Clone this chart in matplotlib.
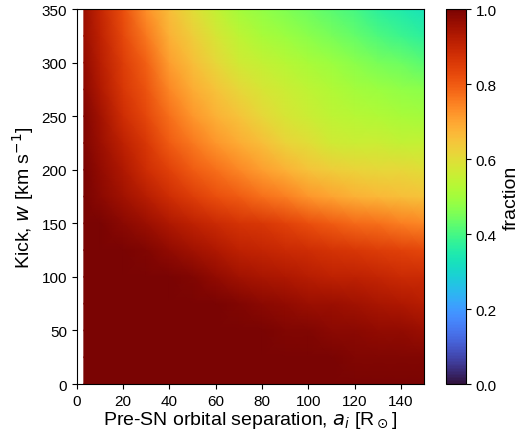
import numpy as np
import matplotlib
matplotlib.use('Agg')
import matplotlib.pyplot as plt

plt.rcParams['font.family'] = ['Liberation Sans', 'DejaVu Sans']

# grid points (separation a_i in R_sun, kick w in km/s)
a_vals = [3, 10, 20, 30, 40, 50, 60, 70, 80, 90, 100, 110, 120, 130, 140, 150]
w_vals = [0, 25, 50, 75, 100, 125, 150, 175, 200, 225, 250, 275, 300, 325, 350]

# fraction, one row per kick value (bottom to top)
frac_w0   = [1.00, 1.00, 1.00, 1.00, 1.00, 1.00, 1.00, 1.00, 1.00, 1.00, 1.00, 1.00, 1.00, 1.00, 1.00, 1.00]
frac_w25  = [1.00, 1.00, 1.00, 1.00, 1.00, 1.00, 1.00, 1.00, 1.00, 1.00, 1.00, 1.00, 0.99, 0.99, 0.99, 0.99]
frac_w50  = [1.00, 1.00, 1.00, 1.00, 1.00, 1.00, 1.00, 1.00, 1.00, 0.99, 0.99, 0.98, 0.98, 0.97, 0.97, 0.96]
frac_w75  = [1.00, 1.00, 1.00, 1.00, 1.00, 1.00, 1.00, 0.99, 0.98, 0.97, 0.96, 0.96, 0.95, 0.94, 0.93, 0.92]
frac_w100 = [1.00, 1.00, 1.00, 1.00, 1.00, 0.99, 0.97, 0.95, 0.94, 0.93, 0.92, 0.91, 0.91, 0.90, 0.89, 0.89]
frac_w125 = [1.00, 1.00, 1.00, 0.99, 0.97, 0.95, 0.93, 0.91, 0.90, 0.89, 0.88, 0.87, 0.86, 0.85, 0.84, 0.83]
frac_w150 = [1.00, 1.00, 0.98, 0.96, 0.93, 0.91, 0.89, 0.87, 0.86, 0.84, 0.82, 0.80, 0.78, 0.77, 0.75, 0.74]
frac_w175 = [1.00, 0.98, 0.95, 0.92, 0.88, 0.85, 0.82, 0.80, 0.77, 0.75, 0.72, 0.70, 0.68, 0.67, 0.66, 0.65]
frac_w200 = [1.00, 0.97, 0.93, 0.88, 0.84, 0.80, 0.77, 0.74, 0.71, 0.68, 0.65, 0.63, 0.62, 0.61, 0.61, 0.60]
frac_w225 = [0.99, 0.96, 0.91, 0.86, 0.80, 0.76, 0.72, 0.69, 0.66, 0.62, 0.60, 0.57, 0.56, 0.56, 0.55, 0.55]
frac_w250 = [0.99, 0.95, 0.88, 0.83, 0.77, 0.72, 0.68, 0.65, 0.61, 0.58, 0.56, 0.54, 0.53, 0.52, 0.51, 0.50]
frac_w275 = [0.98, 0.93, 0.86, 0.81, 0.74, 0.69, 0.65, 0.61, 0.58, 0.56, 0.54, 0.52, 0.50, 0.49, 0.48, 0.47]
frac_w300 = [0.97, 0.92, 0.85, 0.79, 0.71, 0.66, 0.61, 0.57, 0.55, 0.53, 0.51, 0.49, 0.47, 0.45, 0.44, 0.42]
frac_w325 = [0.96, 0.91, 0.83, 0.76, 0.68, 0.63, 0.58, 0.54, 0.51, 0.49, 0.47, 0.45, 0.43, 0.41, 0.39, 0.37]
frac_w350 = [0.96, 0.90, 0.82, 0.73, 0.66, 0.60, 0.55, 0.50, 0.48, 0.46, 0.44, 0.42, 0.40, 0.37, 0.35, 0.33]

frac = np.array([frac_w0, frac_w25, frac_w50, frac_w75, frac_w100, frac_w125, frac_w150,
                 frac_w175, frac_w200, frac_w225, frac_w250, frac_w275, frac_w300,
                 frac_w325, frac_w350])

fig = plt.figure(figsize=(5.23, 4.39), dpi=100)
ax = fig.add_axes([0.147, 0.123, 0.664, 0.854])
cax = fig.add_axes([0.853, 0.123, 0.038, 0.854])

mesh = ax.pcolormesh(a_vals, w_vals, frac, cmap='turbo', vmin=0, vmax=1, shading='gouraud')
ax.set_xlim(0, 150)
ax.set_ylim(0, 350)
ax.set_xticks(np.arange(0, 141, 20))
ax.set_yticks(np.arange(0, 351, 50))
ax.tick_params(labelsize=11, length=3.5)
ax.set_xlabel(r'Pre-SN orbital separation, $a_i$ [R$_\odot$]', fontsize=14, labelpad=1)
ax.set_ylabel(r'Kick, $w$ [km s$^{-1}$]', fontsize=14, labelpad=4)

cb = fig.colorbar(mesh, cax=cax)
cb.set_ticks(np.arange(0, 1.01, 0.2))
cb.ax.tick_params(labelsize=11, length=3.5)
cb.set_label('fraction', fontsize=14)

fig.savefig('out.png', dpi=100)
